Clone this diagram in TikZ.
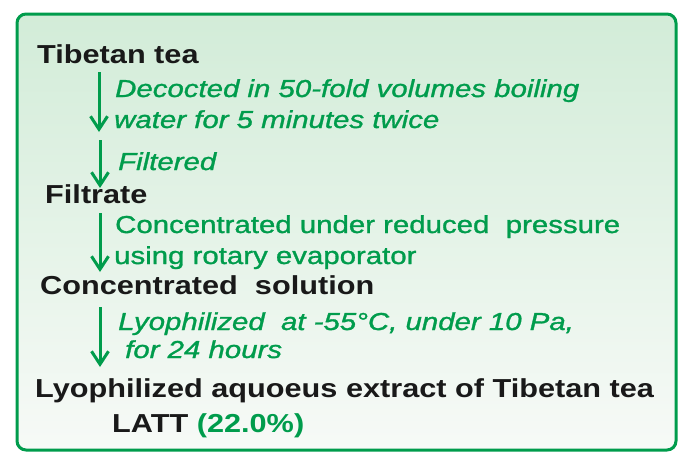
\documentclass[tikz,border=0pt]{standalone}
\usepackage{fontspec}
\setmainfont{Liberation Sans}
\newfontfamily\stepfont{Liberation Sans}[FakeStretch=1.18]
\newfontfamily\notefont{Liberation Sans}[FakeStretch=1.2,FakeBold=1.2]
\usepackage{tikz}
\usepackage{xcolor}
\usetikzlibrary{arrows.meta}
\definecolor{teagreen}{RGB}{0,156,76}
\definecolor{boxtop}{RGB}{210,236,216}
\definecolor{boxbottom}{RGB}{247,250,247}
\tikzset{
  product/.style={anchor=base west, inner sep=0pt, text=black!90,
    font=\stepfont\fontsize{26}{30}\selectfont\bfseries},
  process/.style={anchor=base west, inner sep=0pt, text=teagreen,
    font=\notefont\fontsize{24.5}{28}\selectfont\itshape},
  processup/.style={process, font=\notefont\fontsize{24.5}{28}\selectfont},
  flow/.style={draw=teagreen, line width=3pt, -{Straight Barb[length=13pt,width=17pt]}}
}
\begin{document}
\begin{tikzpicture}[x=1pt,y=-1pt]
            \useasboundingbox (0,0) rectangle (691,463);
			\draw[draw=teagreen, line width=3pt, rounded corners=9pt, top color=boxtop, bottom color=boxbottom](17,14) rectangle (676,450);
            % products
            \node[product] (tea) at (37,63) {Tibetan tea};
            \node[product] (filtrate) at (45,203) {Filtrate};
            \node[product] (solution) at (40,294) {Concentrated\ \ solution};
            \node[product] (extract) at (35,397) {Lyophilized aquoeus extract of Tibetan tea};
            \node[product] (latt) at (112,432) {LATT \textcolor{teagreen}{(22.0\%)}};
            % processes
            \node[process] (decoct1) at (115,97) {Decocted in 50-fold volumes boiling};
            \node[process] (decoct2) at (114,128) {water for 5 minutes twice};
            \node[process] (filter) at (118,170) {Filtered};
            \node[processup] (conc1) at (115,233) {Concentrated under reduced\ \ pressure};
            \node[processup] (conc2) at (114,264) {using rotary evaporator};
            \node[process] (lyo1) at (118,330) {Lyophilized\ \ at -55°C, under 10 Pa,};
            \node[process] (lyo2) at (125,358) {for 24 hours};
            % arrows
            \coordinate (a1s) at (99,72);  \coordinate (a1e) at (99,132);
            \coordinate (a2s) at (100,140); \coordinate (a2e) at (100,188);
            \coordinate (a3s) at (100,213); \coordinate (a3e) at (100,272);
            \coordinate (a4s) at (100,307); \coordinate (a4e) at (100,367);
            \draw[flow] (a1s) -- (a1e);
            \draw[flow] (a2s) -- (a2e);
            \draw[flow] (a3s) -- (a3e);
            \draw[flow] (a4s) -- (a4e);
		\end{tikzpicture}
\end{document}
